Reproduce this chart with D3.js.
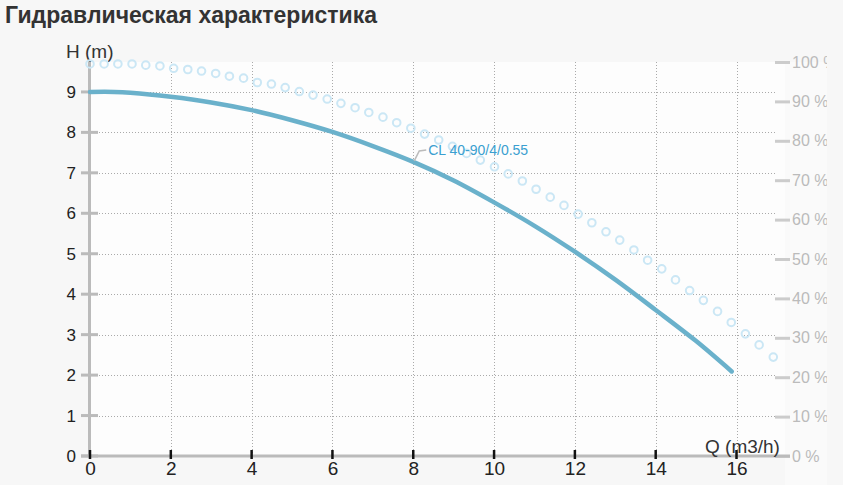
<!DOCTYPE html>
<html>
<head>
<meta charset="utf-8">
<script src="https://d3js.org/d3.v7.min.js"></script>
<style>
body { margin: 0; background: #f7f7f7; }
svg { display: block; font-family: "Liberation Sans", Arial, sans-serif; }
</style>
</head>
<body>
<div id="chart"></div>
<script>

// head curve CL 40-90/4/0.55
var flowQ = [0, 0.6, 1, 2, 3, 4, 5, 6, 7, 8, 9, 10, 11, 12, 13, 14, 15, 15.88];
var headH = [9.0, 9.0, 8.98, 8.88, 8.74, 8.55, 8.30, 8.01, 7.66, 7.27, 6.81, 6.27, 5.69, 5.05, 4.36, 3.61, 2.84, 2.09];

// efficiency points (right axis, %)
var effQ = [0, 0.35, 0.69, 1.04, 1.38, 1.73, 2.07, 2.42, 2.76, 3.11, 3.45, 3.80, 4.14, 4.49, 4.83,
            5.18, 5.52, 5.87, 6.21, 6.56, 6.90, 7.25, 7.59, 7.94, 8.28, 8.63, 8.97, 9.32, 9.66, 10.01,
            10.35, 10.70, 11.04, 11.39, 11.73, 12.08, 12.42, 12.77, 13.11, 13.46, 13.80, 14.15, 14.49,
            14.84, 15.18, 15.53, 15.87, 16.22, 16.56, 16.91];
var effPct = [99.5, 99.5, 99.5, 99.5, 99.2, 99.0, 98.4, 98.1, 97.7, 97.1, 96.4, 95.9, 94.8, 94.4, 93.5,
              92.5, 91.6, 90.6, 89.5, 88.4, 87.2, 86.0, 84.6, 83.2, 81.7, 80.2, 78.6, 76.8, 75.1, 73.4,
              71.6, 69.8, 67.7, 65.7, 63.6, 61.4, 59.2, 56.9, 54.8, 52.3, 49.7, 47.5, 44.7,
              42.0, 39.5, 36.7, 33.9, 31.0, 28.2, 25.1];

var xTicks = [0, 2, 4, 6, 8, 10, 12, 14, 16];
var yTicks = [0, 1, 2, 3, 4, 5, 6, 7, 8, 9];
var pctTicks = [0, 10, 20, 30, 40, 50, 60, 70, 80, 90, 100];
var curveName = "CL 40-90/4/0.55";
var labelAtQ = 8;

var W = 843, H = 485;
var pL = 90, pR = 785, pT = 62, pB = 456;

var svg = d3.select("#chart").append("svg")
    .attr("width", W)
    .attr("height", H);

svg.append("rect").attr("width", W).attr("height", H).style("fill", "#f7f7f7");
svg.append("rect")
    .attr("x", pL).attr("y", pT)
    .attr("width", pR - pL).attr("height", pB - pT)
    .style("fill", "#fdfdfd");
svg.append("rect")
    .attr("x", pR).attr("y", pT)
    .attr("width", 42).attr("height", pB - pT + 29)
    .style("fill", "#fafafa");

var x = d3.scaleLinear().domain([0, 17.2]).range([pL, pR]);
var y = d3.scaleLinear().domain([0, 9.74]).range([pB, pT]);
var yr = d3.scaleLinear().domain([0, 100]).range([pB, pT]);

svg.append("text")
    .attr("x", 5).attr("y", 23)
    .style("font-size", "23px").style("font-weight", "bold")
    .style("fill", "#333")
    .text("Гидравлическая характеристика");

// grid
var grid = svg.append("g")
    .style("stroke", "#aaa").style("stroke-width", 1).style("stroke-dasharray", "1,2");
grid.selectAll("line.v")
  .data(xTicks.filter(function(d) { return d > 0; }))
  .enter().append("line")
    .attr("x1", function(d) { return Math.round(x(d)) + 0.5; })
    .attr("x2", function(d) { return Math.round(x(d)) + 0.5; })
    .attr("y1", pT).attr("y2", pB);
grid.selectAll("line.h")
  .data(yTicks.filter(function(d) { return d > 0; }))
  .enter().append("line")
    .attr("y1", function(d) { return Math.round(y(d)) + 0.5; })
    .attr("y2", function(d) { return Math.round(y(d)) + 0.5; })
    .attr("x1", pL).attr("x2", 775);

// left axis
var yAxis = svg.append("g").attr("transform", "translate(" + pL + ",0)")
    .call(d3.axisLeft(y).tickValues(yTicks).tickSize(0).tickPadding(14));
yAxis.select(".domain").remove();
yAxis.selectAll("text").style("font-size", "17px").style("fill", "#222").style("font-family", "Liberation Sans, Arial, sans-serif");
svg.append("line")
    .attr("x1", pL - 0.5).attr("x2", pL - 0.5)
    .attr("y1", pT - 2).attr("y2", pB)
    .style("stroke", "#bbb").style("stroke-width", 3);
svg.selectAll("line.ytick")
  .data(yTicks)
  .enter().append("line")
    .attr("x1", pL - 9).attr("x2", pL + 8)
    .attr("y1", function(d) { return y(d); })
    .attr("y2", function(d) { return y(d); })
    .style("stroke", "#bbb").style("stroke-width", 3);

// right axis
var rAxis = svg.append("g").attr("transform", "translate(775,0)")
    .call(d3.axisRight(yr).tickValues(pctTicks).tickSize(0).tickPadding(17)
        .tickFormat(function(d) { return d + " %"; }));
rAxis.select(".domain").remove();
rAxis.selectAll("text").style("font-size", "16px").style("fill", "#bbb").style("font-family", "Liberation Sans, Arial, sans-serif");
svg.selectAll("line.rtick")
  .data(pctTicks)
  .enter().append("line")
    .attr("x1", 775).attr("x2", 790)
    .attr("y1", function(d) { return yr(d) + 0.5; })
    .attr("y2", function(d) { return yr(d) + 0.5; })
    .style("stroke", "#ccc").style("stroke-width", 3);
// clip strip on the far right
svg.append("rect").attr("x", 827).attr("y", 40).attr("width", 16).attr("height", 445)
    .style("fill", "#f7f7f7");

// bottom axis
svg.append("line")
    .attr("x1", pL - 9).attr("x2", 790)
    .attr("y1", pB).attr("y2", pB)
    .style("stroke", "#bbb").style("stroke-width", 3);
var xAxis = svg.append("g").attr("transform", "translate(0," + pB + ")")
    .call(d3.axisBottom(x).tickValues(xTicks).tickSize(0).tickPadding(6));
xAxis.select(".domain").remove();
xAxis.selectAll("text").style("font-size", "19px").style("fill", "#222").style("font-family", "Liberation Sans, Arial, sans-serif");
svg.selectAll("line.xtick")
  .data(xTicks)
  .enter().append("line")
    .attr("x1", function(d) { return x(d); })
    .attr("x2", function(d) { return x(d); })
    .attr("y1", pB - 6).attr("y2", pB + 3)
    .style("stroke", "#111").style("stroke-width", 2.5);

// axis titles
svg.append("text").attr("x", 66).attr("y", 58)
    .style("font-size", "19px").style("fill", "#333").text("H (m)");
svg.append("text").attr("x", 705).attr("y", 453)
    .style("font-size", "19px").style("fill", "#333").text("Q (m3/h)");

// efficiency circles
svg.append("g").selectAll("circle")
  .data(effQ.map(function(q, i) { return [q, effPct[i]]; }))
  .enter().append("circle")
    .attr("cx", function(d) { return x(d[0]); })
    .attr("cy", function(d) { return yr(d[1]); })
    .attr("r", 3.8)
    .style("fill", "none")
    .style("stroke", "#cbe7f5")
    .style("stroke-width", 2);

// head curve
var line = d3.line()
    .x(function(d) { return x(d[0]); })
    .y(function(d) { return y(d[1]); })
    .curve(d3.curveCatmullRom);
svg.append("path")
    .datum(flowQ.map(function(q, i) { return [q, headH[i]]; }))
    .attr("d", line)
    .style("fill", "none")
    .style("stroke", "#6ab1cb")
    .style("stroke-width", 4.5)
    .style("stroke-linecap", "round");

// curve label
var li = flowQ.indexOf(labelAtQ);
var lx = x(labelAtQ), ly = y(headH[li]);
svg.append("path")
    .attr("d", "M" + (lx + 1) + "," + (ly - 1) + "L" + (lx + 6) + "," + (ly - 11) + "L" + (lx + 13) + "," + (ly - 12))
    .style("fill", "none").style("stroke", "#bbb").style("stroke-width", 1.5);
svg.append("text")
    .attr("x", lx + 15).attr("y", ly - 7)
    .style("font-size", "14px").style("fill", "#3a9fd0")
    .text(curveName);

</script>
</body>
</html>
